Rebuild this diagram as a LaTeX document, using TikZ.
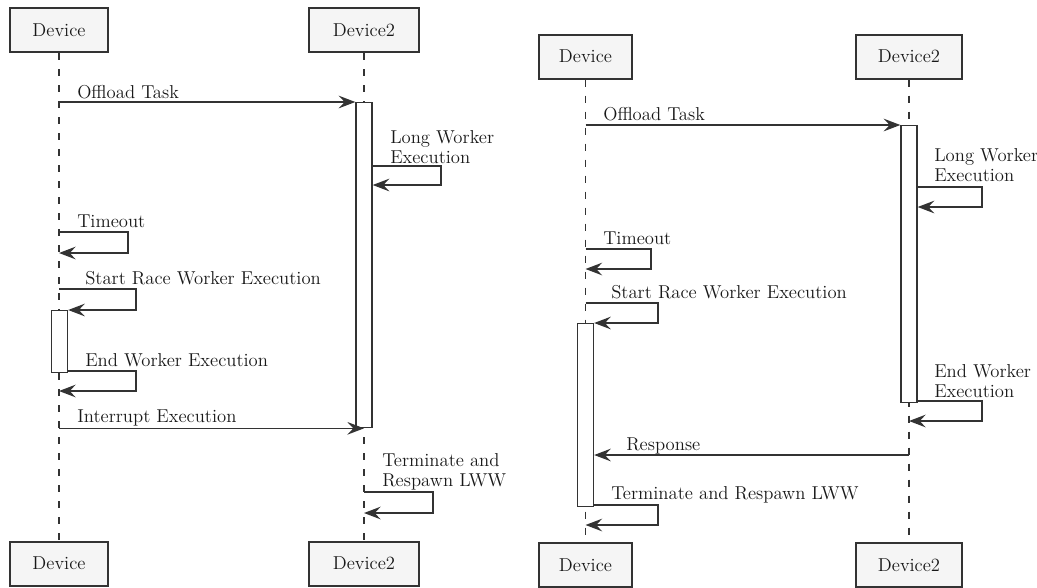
\documentclass[tikz,border=0pt]{standalone}
\usepackage{tikz}
\usetikzlibrary{arrows.meta}
\definecolor{seqline}{HTML}{333333}
\definecolor{seqfill}{HTML}{F5F5F5}

\begin{document}
\begin{tikzpicture}[x=0.75pt,y=-0.75pt,
		actor/.style={draw=seqline, fill=seqfill, line width=1.5pt, minimum height=33pt, inner sep=0pt, text=black!90, font=\fontsize{14}{17}\selectfont},
		lifeline/.style={draw=seqline, line width=1pt, dash pattern=on 5.25pt off 6.75pt},
		actbar/.style={draw=seqline, fill=white, line width=1pt, minimum width=12pt, inner sep=0pt, anchor=north},
		msg/.style={draw=seqline, line width=1pt, -{Stealth[length=12.5pt,width=9.5pt,inset=4.5pt]}},
		lbl/.style={anchor=base west, inner sep=0pt, align=left, text=black!90, font=\fontsize{14}{14.6}\selectfont}]
	\useasboundingbox (0,0) rectangle (1037,587);

	% first run: the long worker is interrupted
	\node[actor, minimum width=73.5pt] (ldevT) at (59,30) {Device};
	\node[actor, minimum width=82.5pt] (ldevtwoT) at (364,30) {Device2};
	\node[actor, minimum width=73.5pt] (ldevB) at (59,563.5) {Device};
	\node[actor, minimum width=82.5pt] (ldevtwoB) at (364,563.5) {Device2};
	\draw[lifeline] (ldevT) -- (ldevB);
	\draw[lifeline] (ldevtwoT) -- (ldevtwoB);
	\node[actbar, minimum height=243.75pt] (lbarA) at (364,102) {};
	\node[actbar, minimum height=46.5pt] (lbarB) at (59.5,310) {};

	\draw[msg] (ldevT |- lbarA.north) -- (lbarA.north west);
	\node[lbl] at (77,98) {Offload Task};
	\draw[msg] (lbarA.east |- 0,166) -- (441,166) -- (441,185) -- (lbarA.east |- 0,185);
	\node[lbl] at (390,163) {Long Worker\\Execution};
	\draw[msg] (ldevT |- 0,232) -- (128,232) -- (128,253) -- (ldevT |- 0,253);
	\node[lbl] at (77,227) {Timeout};
	\draw[msg] (ldevT |- 0,289) -- (136,289) -- (136,310) -- (lbarB.north east);
	\node[lbl] at (85,284) {Start Race Worker Execution};
	\draw[msg] (lbarB.east |- 0,371) -- (136,371) -- (136,391) -- (ldevT |- 0,391);
	\node[lbl] at (85,366) {End Worker Execution};
	\draw[msg] (ldevT |- lbarA.south) -- (lbarA.south);
	\node[lbl] at (77,422) {Interrupt Execution};
	\draw[msg] (ldevtwoT |- 0,492) -- (433,492) -- (433,513) -- (ldevtwoT |- 0,513);
	\node[lbl] at (382,486) {Terminate and\\Respawn LWW};

	% second run: the race worker answers first
	\node[actor, minimum width=70pt] (rdevT) at (585.5,56.5) {Device};
	\node[actor, minimum width=79.5pt] (rdevtwoT) at (909,56.5) {Device2};
	\node[actor, minimum width=70pt] (rdevB) at (585.5,565) {Device};
	\node[actor, minimum width=79.5pt] (rdevtwoB) at (909,565) {Device2};
	\draw[lifeline] (rdevT) -- (rdevB);
	\draw[lifeline] (rdevtwoT) -- (rdevtwoB);
	\node[actbar, minimum height=207.75pt] (rbarC) at (909,125) {};
	\node[actbar, minimum height=137.25pt] (rbarD) at (585.5,323) {};

	\draw[msg] (rdevT |- rbarC.north) -- (rbarC.north west);
	\node[lbl] at (603,120) {Offload Task};
	\draw[msg] (rbarC.east |- 0,187) -- (982,187) -- (982,207) -- (rbarC.east |- 0,207);
	\node[lbl] at (934,181) {Long Worker\\Execution};
	\draw[msg] (rdevT |- 0,249) -- (651,249) -- (651,269) -- (rdevT |- 0,269);
	\node[lbl] at (603,244) {Timeout};
	\draw[msg] (rdevT |- 0,303) -- (658,303) -- (658,323) -- (rbarD.north east);
	\node[lbl] at (611,298) {Start Race Worker Execution};
	\draw[msg] (rbarC.east |- 0,401) -- (982,401) -- (982,421) -- (rdevtwoT |- 0,421);
	\node[lbl] at (934,397) {End Worker\\Execution};
	\draw[msg] (rdevtwoT |- 0,455) -- (rbarD.east |- 0,455);
	\node[lbl] at (626,450) {Response};
	\draw[msg] (rbarD.east |- 0,505) -- (658,505) -- (658,525) -- (rdevT |- 0,525);
	\node[lbl] at (611,499) {Terminate and Respawn LWW};
\end{tikzpicture}
\end{document}
